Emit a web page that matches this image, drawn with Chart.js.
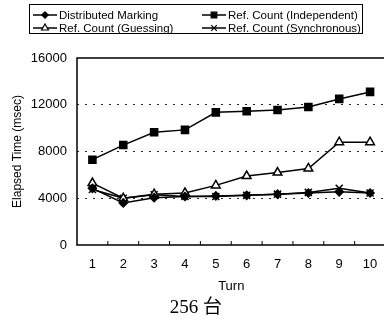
<!DOCTYPE html>
<html>
<head>
<meta charset="utf-8">
<script src="https://cdn.jsdelivr.net/npm/chart.js@4.4.0/dist/chart.umd.min.js"></script>
<style>
  html, body { margin: 0; padding: 0; background: #fff; overflow: hidden; }
  #wrap { position: relative; width: 392px; height: 321px; }
</style>
</head>
<body>
<div id="wrap"><canvas id="chart" width="392" height="321"></canvas></div>
<script>
// Turn number on the x axis
const turns = ['1', '2', '3', '4', '5', '6', '7', '8', '9', '10'];

// Elapsed time (msec) per method
const distributedMarking = [4850, 3600, 4050, 4150, 4200, 4250, 4350, 4450, 4550, 4450];
const refCountIndependent = [7300, 8550, 9650, 9850, 11350, 11450, 11550, 11800, 12500, 13100];
const refCountGuessing = [5300, 4000, 4350, 4450, 5100, 5900, 6200, 6550, 8800, 8800];
const refCountSynchronous = [4750, 4000, 4300, 4150, 4150, 4250, 4350, 4500, 4850, 4450];

const yTicks = [0, 4000, 8000, 12000, 16000];

const seriesLabels = [
  'Distributed Marking',
  'Ref. Count (Independent)',
  'Ref. Count (Guessing)',
  'Ref. Count (Synchronous)'
];

const FONT = 'Liberation Sans, Arial, sans-serif';

function series(label, data, style, radius, fill) {
  return {
    label,
    data,
    borderColor: '#000',
    borderWidth: 1.5,
    pointStyle: style,
    pointRadius: radius,
    pointHoverRadius: radius,
    pointBackgroundColor: fill,
    pointBorderColor: '#000',
    pointBorderWidth: 1.5,
    tension: 0
  };
}

// Draws the boxed two-column legend, the frame, the inner x ticks and the caption
const decorations = {
  id: 'decorations',
  afterDraw(chart) {
    const ctx = chart.ctx;
    const area = chart.chartArea;
    const xs = chart.scales.x;
    ctx.save();

    // frame around plot area
    ctx.strokeStyle = '#000';
    ctx.lineWidth = 1.5;
    ctx.strokeRect(area.left, area.top, area.right - area.left, area.bottom - area.top);

    // small tick marks between categories, pointing into the plot
    ctx.lineWidth = 1;
    for (let i = 0; i < turns.length - 1; i++) {
      const x = (xs.getPixelForValue(i) + xs.getPixelForValue(i + 1)) / 2;
      ctx.beginPath();
      ctx.moveTo(x, area.bottom);
      ctx.lineTo(x, area.bottom - 4);
      ctx.stroke();
    }

    // legend, two columns, row by row
    ctx.lineWidth = 1;
    ctx.strokeRect(29.5, 4.5, 333, 29);
    const slots = [
      { x: 33, y: 15 }, { x: 202, y: 15 },
      { x: 33, y: 28 }, { x: 202, y: 28 }
    ];
    ctx.font = '11.5px ' + FONT;
    ctx.textBaseline = 'middle';
    chart.data.datasets.forEach((ds, k) => {
      const s = slots[k];
      ctx.strokeStyle = '#000';
      ctx.lineWidth = 1.5;
      ctx.beginPath();
      ctx.moveTo(s.x, s.y);
      ctx.lineTo(s.x + 24, s.y);
      ctx.stroke();
      ctx.fillStyle = ds.pointBackgroundColor;
      ctx.lineWidth = 1.2;
      Chart.helpers.drawPoint(ctx, {
        pointStyle: ds.pointStyle,
        radius: ds.pointRadius * 0.8,
        borderWidth: 1.2,
        rotation: 0
      }, s.x + 12, s.y);
      ctx.fillStyle = '#000';
      ctx.fillText(seriesLabels[k], s.x + 26, s.y + 0.5);
    });

    // caption under the chart
    ctx.font = '19px "Liberation Serif", "Noto Sans CJK JP", serif';
    ctx.textAlign = 'center';
    ctx.textBaseline = 'middle';
    ctx.fillStyle = '#000';
    ctx.fillText('256 台', 196, 308);
    ctx.restore();
  }
};

function makeChart() {
  const ctx = document.getElementById('chart').getContext('2d');
  return new Chart(ctx, {
    type: 'line',
    data: {
      labels: turns,
      datasets: [
        series(seriesLabels[0], distributedMarking, 'rectRot', 4, '#000'),
        series(seriesLabels[1], refCountIndependent, 'rect', 5, '#000'),
        series(seriesLabels[2], refCountGuessing, 'triangle', 5, '#fff'),
        series(seriesLabels[3], refCountSynchronous, 'crossRot', 5, '#000')
      ]
    },
    options: {
      responsive: false,
      animation: false,
      layout: { padding: { top: 58, right: 2, bottom: 24, left: 0 } },
      plugins: {
        legend: { display: false },
        tooltip: { enabled: false }
      },
      scales: {
        x: {
          offset: true,
          grid: { display: false, drawTicks: false },
          border: { display: false },
          ticks: { color: '#000', font: { family: FONT, size: 13 }, padding: 12 },
          title: { display: true, text: 'Turn', color: '#000', font: { family: FONT, size: 13 }, padding: { top: 0, bottom: 3 } },
          afterFit(scale) { scale.height = 52; }
        },
        y: {
          min: 0,
          max: 16000,
          afterBuildTicks(scale) { scale.ticks = yTicks.map(v => ({ value: v })); },
          grid: {
            drawTicks: false,
            color: c => (c.tick && (c.tick.value === 0 || c.tick.value === 16000)) ? 'rgba(0,0,0,0)' : '#222',
            lineWidth: 1
          },
          border: { display: false, dash: [2, 6] },
          ticks: {
            color: '#000',
            font: { family: FONT, size: 13 },
            padding: 10,
            callback: v => String(v)
          },
          title: { display: true, text: 'Elapsed Time (msec)', color: '#000', font: { family: FONT, size: 12 }, padding: { top: 10, bottom: 0 } },
          afterFit(scale) { scale.width = 77; }
        }
      }
    },
    plugins: [decorations]
  });
}

window.addEventListener('load', makeChart);
</script>
</body>
</html>
